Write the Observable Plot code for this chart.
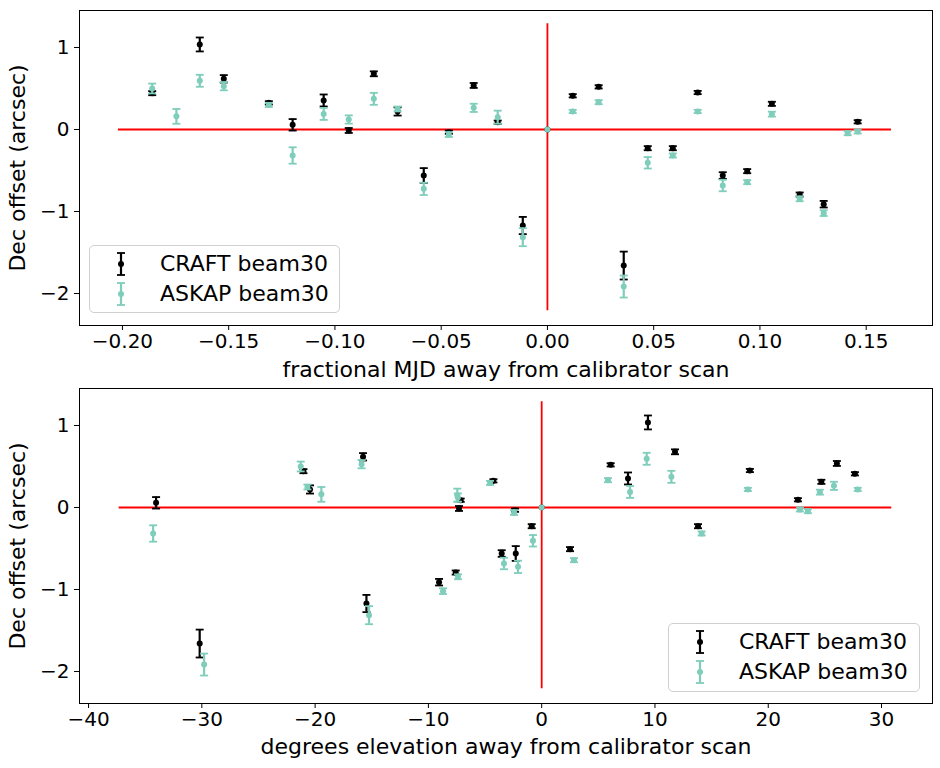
<!DOCTYPE html>
<html>
<head>
<meta charset="utf-8">
<script src="https://cdn.jsdelivr.net/npm/d3@7"></script>
<script src="https://cdn.jsdelivr.net/npm/@observablehq/plot@0.6"></script>
<style>
  html, body { margin: 0; padding: 0; background: #fff; }
  #wrap { position: relative; width: 940px; height: 768px; font-family: "DejaVu Sans", sans-serif; background: #fff; }
  #wrap svg { display: block; overflow: visible; }
  .legend { position: absolute; box-sizing: border-box; border: 1px solid #d0d0d0; border-radius: 5px; background: rgba(255,255,255,0.8); }
  .legend .row { position: absolute; left: 0; height: 30px; width: 100%; }
  .legend .row svg { position: absolute; left: 24px; top: 0; }
  .legend .row span { position: absolute; left: 70px; top: 0; font-size: 22px; white-space: nowrap; color: #000; line-height: 30px; }
</style>
</head>
<body>
<div id="wrap"></div>
<script>
// ---- data ----
const mjdOffset   = [-0.186, -0.1746, -0.1636, -0.1523, -0.1311, -0.1199, -0.1053, -0.0935, -0.0817, -0.0705, -0.0582, -0.0464, -0.0347, -0.0234, -0.0116, 0, 0.0119, 0.0241, 0.0472, 0.059, 0.0707, 0.0825, 0.094, 0.1056, 0.1187, 0.130, 0.1413, 0.146, 0.0359];
const craftDec    = [0.443, null, 1.037, 0.618, 0.325, 0.057, 0.354, -0.012, 0.679, 0.22, -0.561, -0.033, 0.537, 0.089, -1.171, 0, 0.411, 0.52, -0.228, -0.228, 0.451, -0.561, -0.508, 0.313, -0.793, -0.911, null, 0.094, -1.659];
const craftErr    = [0.025, null, 0.085, 0.045, 0.02, 0.07, 0.073, 0.03, 0.03, 0.05, 0.09, 0.02, 0.03, 0.02, 0.105, 0, 0.02, 0.02, 0.025, 0.025, 0.02, 0.04, 0.025, 0.025, 0.025, 0.04, null, 0.02, 0.17];
const askapDec    = [0.50, 0.16, 0.594, 0.528, 0.30, -0.317, 0.19, 0.122, 0.374, 0.25, -0.724, -0.061, 0.264, 0.15, -1.313, 0, 0.22, 0.333, -0.406, -0.317, 0.22, -0.683, -0.642, 0.187, -0.845, -1.02, -0.045, -0.024, -1.915];
const askapErr    = [0.06, 0.09, 0.073, 0.05, 0.025, 0.1, 0.073, 0.05, 0.073, 0.03, 0.075, 0.03, 0.05, 0.08, 0.11, 0, 0.02, 0.025, 0.07, 0.025, 0.02, 0.07, 0.025, 0.03, 0.03, 0.035, 0.025, 0.025, 0.134];
const craftElev   = [-21.03, null, 9.38, -15.77, -4.26, -34.04, 7.62, -7.3, 11.77, -20.45, -2.29, -2.35, 26.06, -7.15, -15.47, 0, 27.65, 6.09, -0.88, 13.8, 18.38, -3.53, 2.5, 24.69, -7.59, -9.06, null, 22.62, -30.19];
const askapElev   = [-21.27, -19.45, 9.27, -15.9, -4.56, -34.3, 7.8, -7.4, 11.45, -20.68, -2.09, -2.44, 25.8, -7.45, -15.24, 0, 27.9, 5.85, -0.77, 14.12, 18.2, -3.33, 2.85, 24.56, -7.39, -8.71, 23.5, 22.8, -29.8];

const seriesNames  = ["CRAFT beam30", "ASKAP beam30"];
const seriesColors = ["#000000", "#7fcdbb"];

const topXTicks = [-0.20, -0.15, -0.10, -0.05, 0.00, 0.05, 0.10, 0.15];
const botXTicks = [-40, -30, -20, -10, 0, 10, 20, 30];
const yTicks    = [-2, -1, 0, 1];
const topXDomain = [-0.2202, 0.1812];
const botXDomain = [-40.8, 34.5];
const yDomain    = [-2.39, 1.451];
const topHLine = [-0.2019, 0.1619];
const botHLine = [-37.3, 30.9];
const vLine    = [-2.21, 1.29];
const xLabels = ["fractional MJD away from calibrator scan", "degrees elevation away from calibrator scan"];
const yLabel = "Dec offset (arcsec)";

// ---- build rows ----
function rows(xs, ys, es) {
  const out = [];
  for (let i = 0; i < xs.length; i++) {
    if (xs[i] == null || ys[i] == null) continue;
    out.push({x: xs[i], y: ys[i], e: es[i]});
  }
  return out;
}

const capSymbol = {
  draw(ctx, size) {
    const r = Math.sqrt(size / Math.PI);
    ctx.moveTo(-r, 0);
    ctx.lineTo(r, 0);
  }
};

function seriesMarks(data, color) {
  const withErr = data.filter(d => d.e > 0);
  return [
    Plot.ruleX(withErr, {x: "x", y1: d => d.y - d.e, y2: d => d.y + d.e, stroke: color, strokeWidth: 2.2}),
    Plot.dot(withErr, {x: "x", y: d => d.y - d.e, symbol: capSymbol, r: 4, stroke: color, strokeWidth: 1.8, fill: "none"}),
    Plot.dot(withErr, {x: "x", y: d => d.y + d.e, symbol: capSymbol, r: 4, stroke: color, strokeWidth: 1.8, fill: "none"}),
    Plot.dot(data, {x: "x", y: "y", r: 3, fill: color, stroke: "none"})
  ];
}

function panel({craft, askap, xDomain, xTicks, xFormat, hLine, xLabel, height, marginBottom, labelDy}) {
  return Plot.plot({
    width: 940,
    height,
    marginTop: 10,
    marginLeft: 79,
    marginRight: 8,
    marginBottom,
    style: {fontSize: "20px", fontFamily: "DejaVu Sans, sans-serif", color: "#000", background: "transparent", overflow: "visible"},
    x: {domain: xDomain, ticks: xTicks, tickFormat: xFormat, tickSize: 5, tickPadding: 3, label: null},
    y: {domain: yDomain, ticks: yTicks, tickFormat: d3.format("d"), tickSize: 5, tickPadding: 5, label: null},
    marks: [
      Plot.ruleY([0], {x1: hLine[0], x2: hLine[1], stroke: "#ff0000", strokeWidth: 1.8}),
      Plot.ruleX([0], {y1: vLine[0], y2: vLine[1], stroke: "#ff0000", strokeWidth: 1.8}),
      ...seriesMarks(craft, seriesColors[0]),
      ...seriesMarks(askap, seriesColors[1]),
      Plot.frame({stroke: "#000", strokeWidth: 1}),
      Plot.text([xLabel], {frameAnchor: "bottom", dy: labelDy, text: d => d, fontSize: 22, textAnchor: "middle", lineAnchor: "middle", fill: "#000"}),
      Plot.text([yLabel], {frameAnchor: "left", dx: -61.5, rotate: -90, text: d => d, fontSize: 22, textAnchor: "middle", lineAnchor: "middle", fill: "#000"})
    ]
  });
}

const wrapEl = document.getElementById("wrap");

const topChart = panel({
  craft: rows(mjdOffset, craftDec, craftErr),
  askap: rows(mjdOffset, askapDec, askapErr),
  xDomain: topXDomain, xTicks: topXTicks, xFormat: d3.format(".2f"),
  hLine: topHLine, xLabel: xLabels[0], height: 378, marginBottom: 53, labelDy: 44
});
const botChart = panel({
  craft: rows(craftElev, craftDec, craftErr),
  askap: rows(askapElev, askapDec, askapErr),
  xDomain: botXDomain, xTicks: botXTicks, xFormat: d3.format("d"),
  hLine: botHLine, xLabel: xLabels[1], height: 390, marginBottom: 65, labelDy: 43
});
wrapEl.appendChild(topChart);
wrapEl.appendChild(botChart);

// ---- legends (inside the plot areas) ----
function legendIcon(color) {
  return `<svg width="14" height="30" viewBox="0 0 14 30">
    <line x1="7" y1="4" x2="7" y2="26" stroke="${color}" stroke-width="2.2"/>
    <line x1="3" y1="4" x2="11" y2="4" stroke="${color}" stroke-width="1.8"/>
    <line x1="3" y1="26" x2="11" y2="26" stroke="${color}" stroke-width="1.8"/>
    <circle cx="7" cy="15" r="3" fill="${color}"/>
  </svg>`;
}
function addLegend(left, topPx, width, height) {
  const box = document.createElement("div");
  box.className = "legend";
  Object.assign(box.style, {left: left + "px", top: topPx + "px", width: width + "px", height: height + "px"});
  seriesNames.forEach((name, i) => {
    const row = document.createElement("div");
    row.className = "row";
    row.style.top = (3 + i * 30) + "px";
    row.innerHTML = legendIcon(seriesColors[i]) + `<span>${name}</span>`;
    box.appendChild(row);
  });
  wrapEl.appendChild(box);
}
addLegend(89, 245, 251, 68);
addLegend(668, 623, 252, 69);
</script>
</body>
</html>
